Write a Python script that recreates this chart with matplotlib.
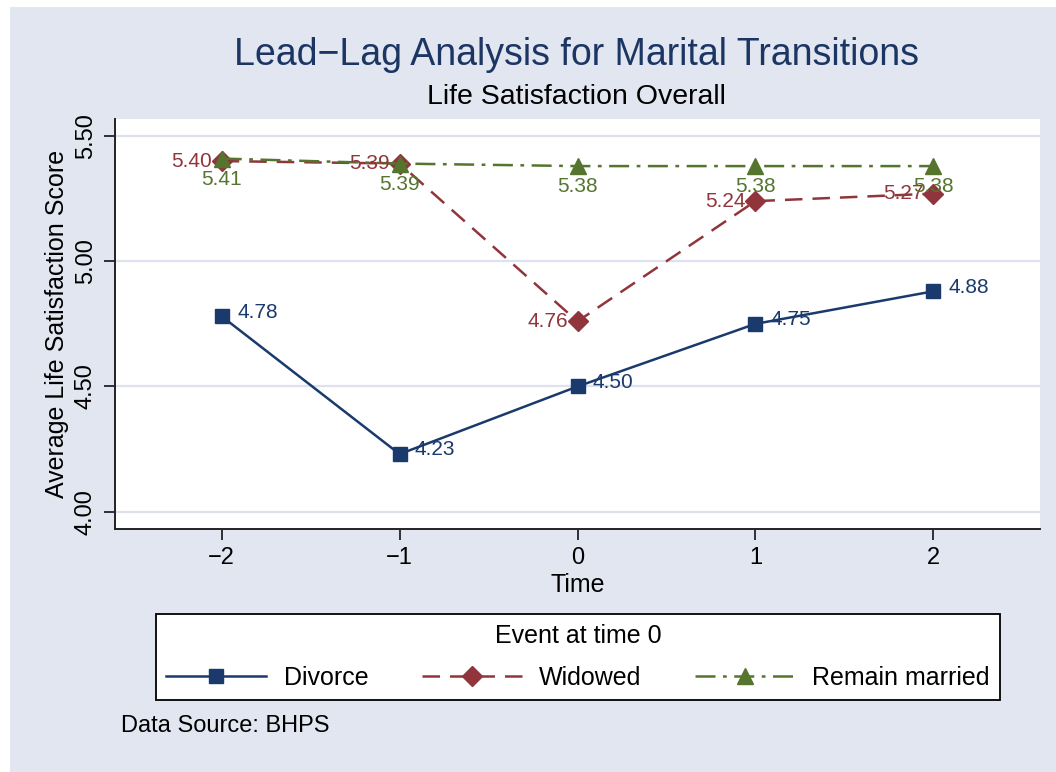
import matplotlib
matplotlib.use("Agg")
import matplotlib.pyplot as plt
from matplotlib.patches import Rectangle

plt.rcParams['font.family'] = ['Liberation Sans', 'DejaVu Sans']

time = [-2, -1, 0, 1, 2]
divorce = [4.78, 4.23, 4.50, 4.75, 4.88]
widowed = [5.40, 5.39, 4.76, 5.24, 5.27]
remain = [5.41, 5.39, 5.38, 5.38, 5.38]
yticks = [4.00, 4.50, 5.00, 5.50]

navy = '#1a3a6e'
maroon = '#90353b'
green = '#55752f'
bg = '#e2e6f0'

fig = plt.figure(figsize=(10.56, 7.72), dpi=100)
fig.patch.set_facecolor('white')
fig.patches.append(Rectangle((10/1056, 0), 1 - 10/1056, 1 - 7/772,
                             transform=fig.transFigure, facecolor=bg,
                             edgecolor='none', zorder=-10))

ax = fig.add_axes([115/1056, 1 - 529/772, 925/1056, 410/772])
ax.set_facecolor('white')
ax.set_xlim(-2.6, 2.6)
ax.set_ylim(3.931, 5.568)

for v in yticks:
    ax.axhline(v, color='#dde2ee', lw=1.6, zorder=0)

l1, = ax.plot(time, divorce, color=navy, lw=1.8, marker='s', ms=10,
              label='Divorce', zorder=3)
l2, = ax.plot(time, widowed, color=maroon, lw=1.8, ls=(0, (7, 4)),
              marker='D', ms=10, label='Widowed', zorder=3)
l3, = ax.plot(time, remain, color=green, lw=1.8, ls=(0, (8, 3, 1.5, 3)),
              marker='^', ms=11, label='Remain married', zorder=4)

for x, y in zip(time, divorce):
    ax.annotate(f'{y:.2f}', (x, y), xytext=(11, 3), textcoords='offset points',
                ha='left', va='center', color=navy, fontsize=15, zorder=5)
for x, y in zip(time, widowed):
    ax.annotate(f'{y:.2f}', (x, y), xytext=(-7, 0), textcoords='offset points',
                ha='right', va='center', color=maroon, fontsize=15, zorder=5)
for x, y in zip(time, remain):
    ax.annotate(f'{y:.2f}', (x, y), xytext=(0, -15), textcoords='offset points',
                ha='center', va='center', color=green, fontsize=15, zorder=5)

ax.set_yticks(yticks)
ax.set_yticklabels([f'{v:.2f}' for v in yticks], rotation=90, va='center',
                   fontsize=17)
ax.set_xticks(time)
ax.set_xticklabels(['\u22122', '\u22121', '0', '1', '2'], fontsize=17)
ax.tick_params(axis='both', direction='out', length=8, width=1.3,
               color='#222222', pad=5)
for s in ['top', 'right']:
    ax.spines[s].set_visible(False)
for s in ['left', 'bottom']:
    ax.spines[s].set_color('#222222')
    ax.spines[s].set_linewidth(1.4)

ax.set_ylabel('Average Life Satisfaction Score', fontsize=18, labelpad=4)
ax.set_xlabel('Time', fontsize=18, labelpad=3)

fig.text(0.546, 1 - 55/772, 'Lead\u2212Lag Analysis for Marital Transitions',
         ha='center', va='center', fontsize=27, color='#1c3664')
fig.text(0.546, 1 - 97/772, 'Life Satisfaction Overall',
         ha='center', va='center', fontsize=20.5, color='black')

leg = fig.legend(handles=[l1, l2, l3], loc='upper left',
                 bbox_to_anchor=(156/1056, 1 - 614/772, 844/1056, 0.0),
                 mode='expand', ncol=3, title='Event at time 0',
                 fontsize=18, title_fontsize=18, frameon=True,
                 fancybox=False, edgecolor='black', handlelength=4.0,
                 handletextpad=0.7, columnspacing=1.5, borderpad=0.4,
                 labelspacing=0.3, borderaxespad=0.0, framealpha=1.0)
leg.get_frame().set_linewidth(1.3)
leg.get_frame().set_facecolor('white')
leg._legend_box.sep = 13

fig.text(121/1056, 1 - 726/772, 'Data Source: BHPS', ha='left', va='center',
         fontsize=17, color='black')

fig.savefig('out.png', dpi=100, facecolor=fig.get_facecolor())
